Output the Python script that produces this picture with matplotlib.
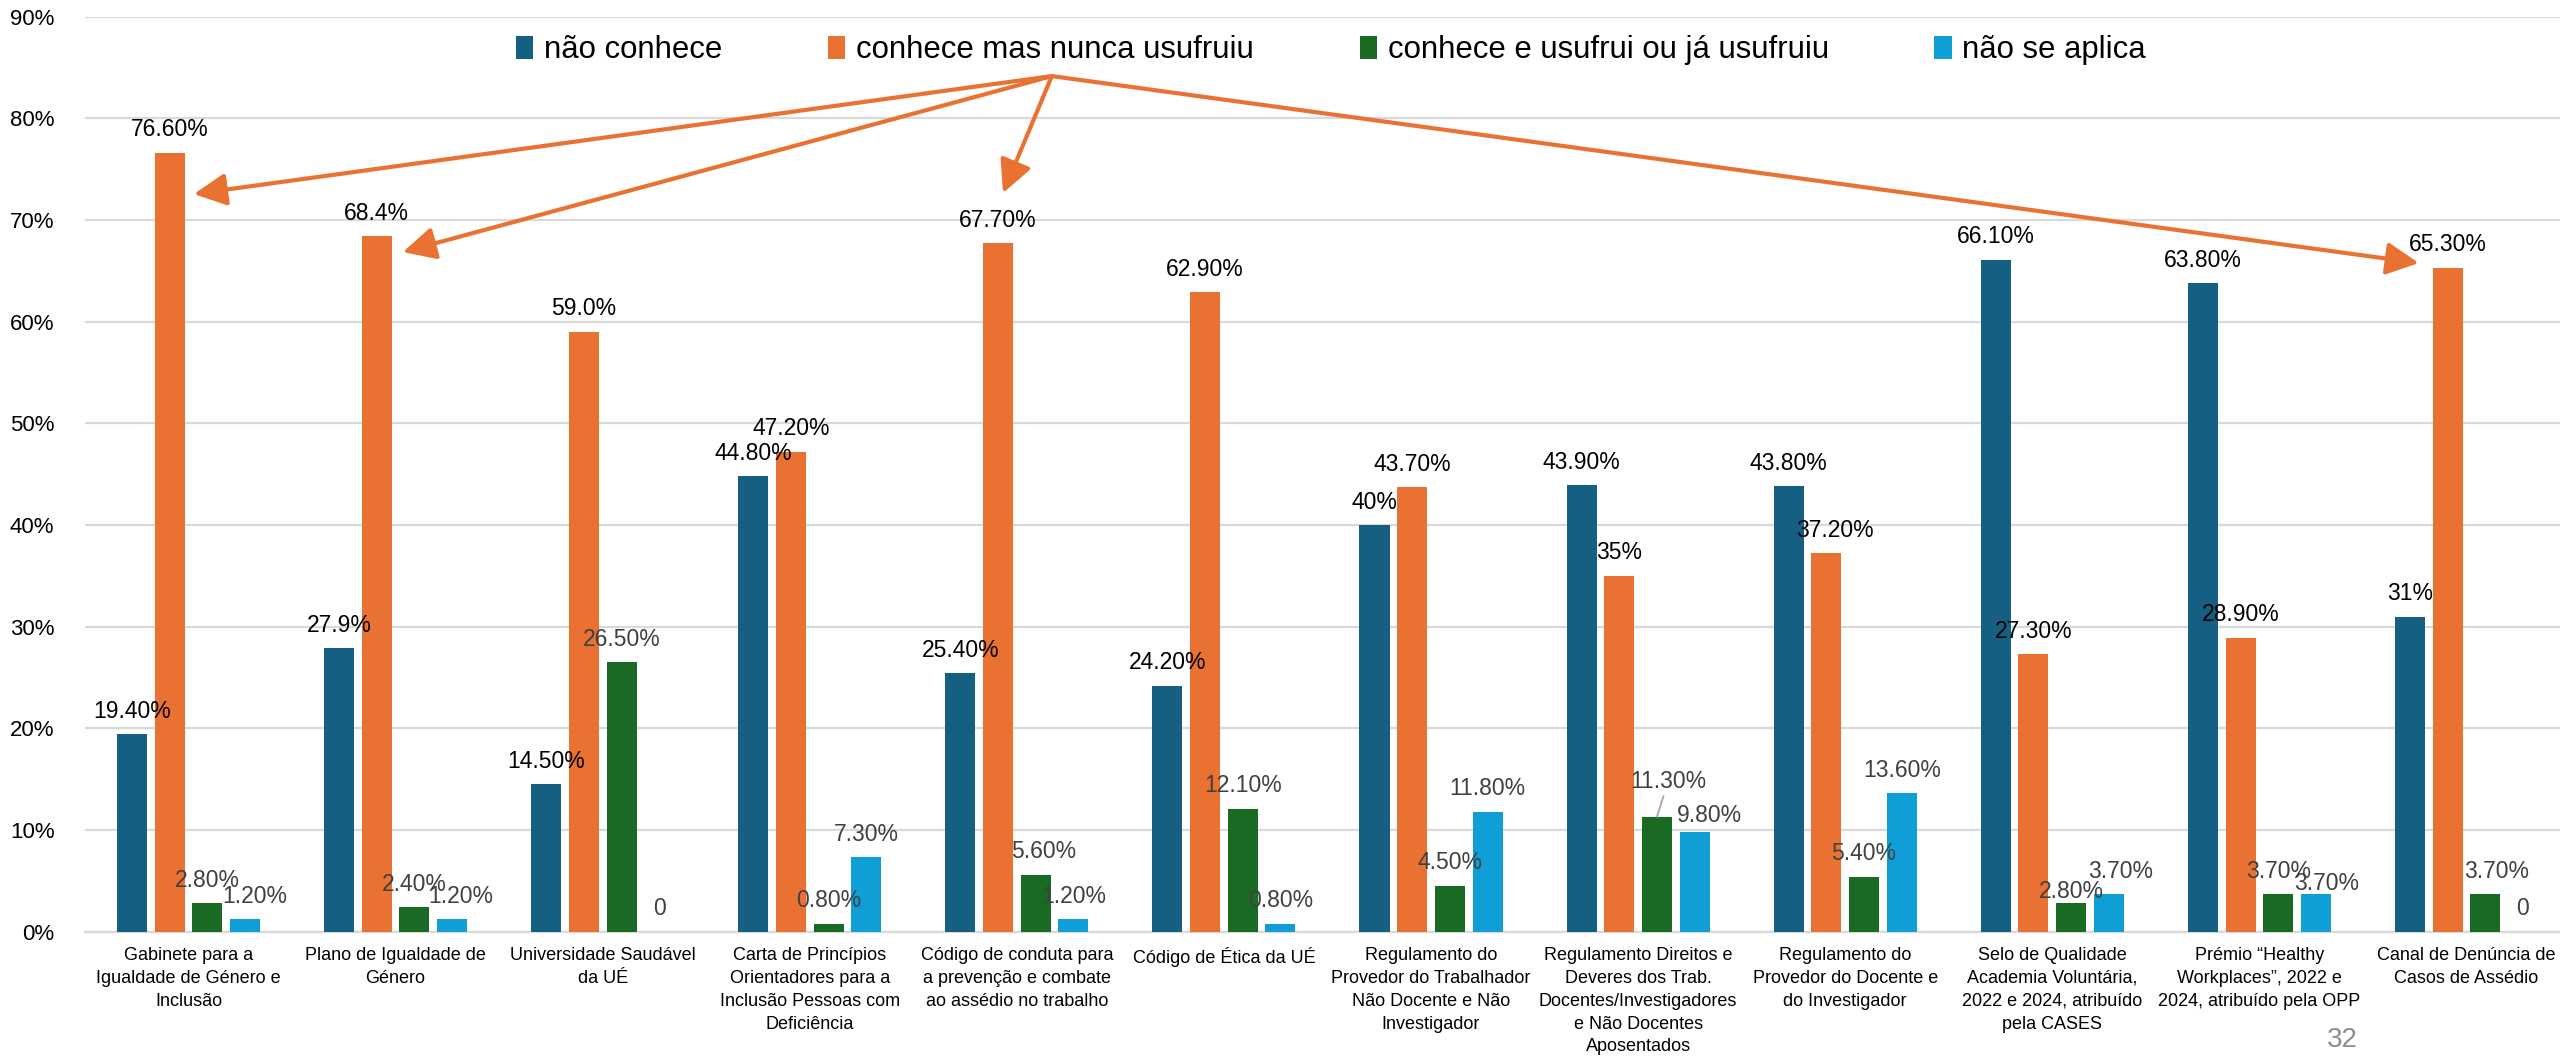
import numpy as np
import matplotlib
matplotlib.use("Agg")
import matplotlib.pyplot as plt

plt.rcParams['font.family'] = ['Liberation Sans', 'DejaVu Sans']

categories = [
    "Gabinete para a\nIgualdade de Género e\nInclusão",
    "Plano de Igualdade de\nGénero",
    "Universidade Saudável\nda UÉ",
    "Carta de Princípios\nOrientadores para a\nInclusão Pessoas com\nDeficiência",
    "Código de conduta para\na prevenção e combate\nao assédio no trabalho",
    "Código de Ética da UÉ",
    "Regulamento do\nProvedor do Trabalhador\nNão Docente e Não\nInvestigador",
    "Regulamento Direitos e\nDeveres dos Trab.\nDocentes/Investigadores\ne Não Docentes\nAposentados",
    "Regulamento do\nProvedor do Docente e\ndo Investigador",
    "Selo de Qualidade\nAcademia Voluntária,\n2022 e 2024, atribuído\npela CASES",
    "Prémio “Healthy\nWorkplaces”, 2022 e\n2024, atribuído pela OPP",
    "Canal de Denúncia de\nCasos de Assédio",
]

series_names = ["não conhece", "conhece mas nunca usufruiu",
                "conhece e usufrui ou já usufruiu", "não se aplica"]

nao_conhece = [19.4, 27.9, 14.5, 44.8, 25.4, 24.2, 40.0, 43.9, 43.8, 66.1, 63.8, 31.0]
nunca_usufruiu = [76.6, 68.4, 59.0, 47.2, 67.7, 62.9, 43.7, 35.0, 37.2, 27.3, 28.9, 65.3]
usufrui = [2.8, 2.4, 26.5, 0.8, 5.6, 12.1, 4.5, 11.3, 5.4, 2.8, 3.7, 3.7]
nao_aplica = [1.2, 1.2, 0.0, 7.3, 1.2, 0.8, 11.8, 9.8, 13.6, 3.7, 3.7, 0.0]

lab_nao_conhece = ["19.40%", "27.9%", "14.50%", "44.80%", "25.40%", "24.20%",
                   "40%", "43.90%", "43.80%", "66.10%", "63.80%", "31%"]
lab_nunca = ["76.60%", "68.4%", "59.0%", "47.20%", "67.70%", "62.90%",
             "43.70%", "35%", "37.20%", "27.30%", "28.90%", "65.30%"]
lab_usufrui = ["2.80%", "2.40%", "26.50%", "0.80%", "5.60%", "12.10%",
               "4.50%", "11.30%", "5.40%", "2.80%", "3.70%", "3.70%"]
lab_nao_aplica = ["1.20%", "1.20%", "0", "7.30%", "1.20%", "0.80%",
                  "11.80%", "9.80%", "13.60%", "3.70%", "3.70%", "0"]

values = [nao_conhece, nunca_usufruiu, usufrui, nao_aplica]
labels = [lab_nao_conhece, lab_nunca, lab_usufrui, lab_nao_aplica]
colors = ["#156082", "#E97132", "#196B24", "#0F9ED5"]
label_colors = ["#000000", "#000000", "#404040", "#404040"]

# manual nudges of some data labels (series, category) -> (dx, dy) pixels
nudges = {
    (2, 7): (11, 12), (3, 7): (15, -6), (2, 9): (0, -11), (3, 9): (12, 0),
    (3, 10): (11, -12), (2, 11): (11, 0), (3, 0): (10, 0), (3, 1): (9, 0),
    (2, 4): (8, 0), (1, 8): (9, 0),
}

fig = plt.figure(figsize=(25.6, 10.58), dpi=100)
ax = fig.add_axes([0.0332, 0.1194, 0.9707, 0.8648])

x = np.arange(len(categories))
width = 0.145
step = 0.182

for i, vals in enumerate(values):
    pos = x + (i - 1.5) * step
    ax.bar(pos, vals, width, color=colors[i], label=series_names[i], zorder=3)
    for j, v in enumerate(vals):
        dx, dy = nudges.get((i, j), (0, 0))
        kw = {}
        if (i, j) == (2, 7):
            kw['arrowprops'] = dict(arrowstyle='-', color='#a6a6a6', lw=1.3,
                                    shrinkA=0, shrinkB=0)
        ax.annotate(labels[i][j], xy=(pos[j], v), xytext=(dx, 23 + dy),
                    textcoords='offset pixels', ha='center', va='center',
                    fontsize=16.5, color=label_colors[i], zorder=5, **kw)

# orange arrows from a common point
start = (4.169, 84.16)
targets = [(0.026, 72.56), (1.035, 66.85), (3.933, 72.66), (10.77, 65.77)]
for t in targets:
    ax.annotate("", xy=t, xytext=start,
                arrowprops=dict(arrowstyle='-|>,head_length=0.9,head_width=0.45',
                                color='#E97132', lw=3, shrinkA=0, shrinkB=0,
                                mutation_scale=22),
                zorder=6)

ax.set_xlim(-0.5, len(categories) - 0.5)
ax.set_ylim(0, 90)
ax.set_yticks(np.arange(0, 91, 10))
ax.set_yticklabels([f"{t}%" for t in range(0, 91, 10)])
ax.set_xticks(x)
ax.set_xticklabels(categories, fontsize=13, linespacing=1.45, va='top')
ax.tick_params(axis='x', length=0, pad=11)
ax.tick_params(axis='y', length=0, pad=22, labelsize=16)

ax.grid(axis='y', color='#d9d9d9', lw=1.6, zorder=0)
for s in ['top', 'right', 'left']:
    ax.spines[s].set_visible(False)
ax.spines['bottom'].set_color('#d9d9d9')
ax.spines['bottom'].set_linewidth(1.6)

fig.legend(loc='center', bbox_to_anchor=(1331 / 2560, 1 - 50 / 1058), ncol=4,
           frameon=False, fontsize=22.4, handlelength=0.55, handleheight=0.75,
           handletextpad=0.35, columnspacing=3.4)

fig.text(2342 / 2560, 1 - 1040 / 1058, "32", fontsize=20, color='#8c8c8c',
         ha='center', va='center')

fig.savefig("out.png", dpi=100)
